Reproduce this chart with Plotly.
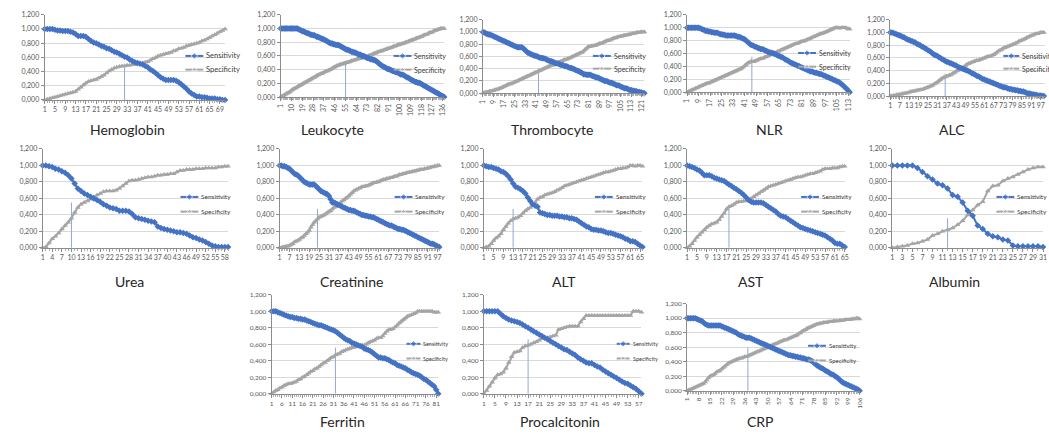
import plotly.graph_objects as go

W, H = 1049, 434

# ---------------- data ----------------
hemoglobin_sens = [1,1,1,1,.99,.98,.98,.97, .97,.97,.96,.95,.93,.90,.90,.90,
 .89,.86,.83,.81,.80,.78,.76,.75, .73,.72,.70,.68,.67,.65,.63,.61,
 .60,.57,.55,.53,.52,.51,.50,.48, .46,.43,.41,.38,.35,.32,.30,.28,
 .28,.28,.28,.27,.25,.22,.19,.16, .12,.09,.07,.05,.05,.04,.04,.03,
 .02,.02,.02,.01,.01,0,0]
hemoglobin_spec = [0,.01,.02,.03,.04,.05,.06,.07, .08,.09,.10,.11,.12,.15,.18,.21,
 .24,.26,.27,.28,.29,.31,.33,.35, .38,.41,.43,.45,.46,.47,.48,.48,
 .49,.49,.50,.50,.51,.51,.52,.53, .54,.56,.58,.60,.62,.63,.64,.65,
 .66,.67,.69,.70,.72,.73,.74,.76, .77,.78,.79,.80,.81,.83,.84,.86,
 .88,.90,.92,.94,.96,.98,1]

leukocyte_sens = [1,1,1,1,1,1,1,1,1,1, 1,1,1,1,1,.99,.98,.97,.96,.96,
 .95,.94,.93,.93,.92,.91,.91,.90,.90,.89, .88,.88,.87,.86,.85,.85,.84,.83,.82,.81,
 .80,.79,.78,.78,.77,.77,.76,.76,.76,.75, .74,.73,.72,.71,.70,.69,.69,.68,.67,.66,
 .66,.65,.65,.64,.63,.62,.62,.61,.60,.60, .59,.58,.57,.57,.56,.55,.55,.54,.54,.53,
 .52,.50,.49,.47,.46,.45,.44,.43,.42,.41, .41,.40,.39,.38,.38,.37,.36,.36,.35,.34,
 .33,.33,.32,.31,.30,.29,.28,.27,.26,.25, .24,.23,.22,.22,.21,.21,.20,.19,.18,.17,
 .16,.15,.14,.13,.12,.11,.10,.09,.08,.07, .06,.05,.04,.03,.02,.01,0]
leukocyte_spec = [0,.01,.02,.03,.04,.05,.06,.07,.08,.10, .11,.12,.13,.14,.15,.16,.17,.18,.19,.20,
 .21,.22,.23,.24,.25,.26,.27,.28,.29,.30, .31,.32,.33,.34,.34,.35,.36,.37,.38,.38,
 .39,.40,.41,.42,.43,.44,.45,.46,.46,.47, .48,.48,.49,.49,.50,.50,.51,.51,.52,.53,
 .53,.54,.54,.55,.55,.56,.56,.57,.57,.58, .58,.59,.59,.60,.61,.61,.62,.63,.64,.64,
 .65,.66,.66,.67,.67,.68,.69,.69,.70,.71, .71,.72,.72,.73,.74,.74,.75,.76,.76,.77,
 .77,.78,.78,.79,.80,.80,.81,.82,.82,.83, .84,.84,.85,.86,.86,.87,.88,.88,.89,.90,
 .91,.91,.92,.93,.94,.94,.95,.96,.97,.97, .98,.99,.99,1,1,1,1]

thrombocyte_sens = [1,.99,.98,.97,.96,.96,.95,.94,.93,.92, .91,.90,.89,.88,.87,.86,.85,.84,.83,.82,
 .81,.80,.79,.78,.77,.76,.75,.75,.75,.75, .74,.72,.70,.68,.66,.65,.64,.63,.62,.61,
 .61,.60,.59,.58,.58,.57,.57,.56,.55,.54, .53,.52,.52,.51,.50,.49,.49,.48,.47,.46,
 .46,.45,.44,.44,.43,.42,.41,.41,.40,.39, .38,.37,.36,.35,.34,.33,.31,.31,.30,.30,
 .30,.30,.29,.28,.27,.26,.26,.25,.24,.23, .22,.21,.20,.20,.19,.18,.17,.17,.16,.15,
 .14,.13,.13,.12,.11,.10,.09,.08,.08,.07, .06,.05,.05,.04,.04,.03,.03,.02,.02,.01,
 .01,0,0]
thrombocyte_spec = [0,.01,.01,.02,.02,.03,.03,.04,.04,.05, .06,.06,.07,.08,.09,.10,.11,.12,.13,.14,
 .15,.15,.16,.17,.18,.19,.20,.21,.22,.23, .24,.25,.26,.27,.28,.29,.30,.31,.32,.33,
 .34,.35,.36,.37,.38,.39,.40,.41,.42,.43, .44,.45,.45,.46,.47,.48,.49,.50,.51,.52,
 .53,.54,.55,.55,.56,.57,.58,.59,.60,.61, .62,.63,.64,.65,.66,.67,.69,.71,.73,.75,
 .76,.76,.77,.77,.78,.78,.79,.80,.81,.81, .82,.83,.84,.85,.86,.86,.87,.88,.89,.90,
 .90,.91,.92,.92,.93,.93,.94,.94,.95,.95, .96,.96,.97,.97,.98,.98,.99,.99,.99,1,
 1,1,1]

nlr_sens = [1,1,1,1,1,1,1,1,1,.99, .98,.97,.96,.95,.95,.94,.94,.93,.93,.92,
 .92,.92,.91,.90,.90,.89,.89,.88,.88,.88, .88,.88,.88,.88,.87,.86,.86,.85,.84,.83,
 .82,.80,.78,.76,.74,.73,.72,.71,.70,.69, .68,.67,.67,.66,.65,.64,.63,.62,.61,.61,
 .60,.59,.58,.57,.56,.55,.54,.53,.51,.50, .49,.47,.46,.45,.44,.43,.42,.41,.40,.39,
 .38,.37,.36,.35,.34,.33,.32,.32,.31,.30, .30,.29,.28,.28,.27,.26,.25,.24,.23,.22,
 .21,.20,.19,.18,.17,.16,.15,.13,.11,.09, .07,.05,.02,0]
nlr_spec = [0,.01,.02,.03,.04,.05,.06,.07,.08,.09, .10,.11,.12,.13,.14,.14,.15,.16,.17,.18,
 .19,.20,.21,.22,.23,.24,.25,.26,.27,.28, .29,.30,.31,.32,.33,.34,.35,.36,.37,.39,
 .41,.43,.45,.46,.47,.47,.47,.48,.49,.50, .51,.52,.52,.53,.54,.55,.56,.57,.58,.59,
 .60,.61,.62,.63,.64,.65,.66,.67,.68,.69, .70,.71,.72,.73,.74,.75,.75,.76,.77,.78,
 .79,.79,.80,.81,.82,.83,.84,.85,.86,.87, .88,.89,.90,.91,.91,.92,.93,.94,.95,.96,
 .97,.98,.99,1,1,1,.99,1,1,1, 1,.99,.98,.98]

alc_sens = [1,1,.99,.98,.97,.96,.95,.94,.93,.92, .90,.89,.88,.87,.86,.85,.84,.82,.81,.80,
 .78,.77,.75,.74,.72,.71,.69,.67,.65,.64, .63,.61,.60,.58,.57,.55,.54,.53,.52,.51,
 .50,.49,.48,.46,.45,.44,.43,.42,.41,.40, .39,.38,.36,.35,.34,.32,.31,.30,.28,.27,
 .26,.25,.24,.23,.22,.21,.20,.19,.18,.17, .16,.15,.14,.14,.13,.12,.11,.11,.10,.10,
 .09,.09,.08,.08,.07,.07,.06,.05,.04,.04, .03,.03,.02,.02,.01,.01,.01,0,0]
alc_spec = [0,0,.01,.01,.02,.02,.03,.03,.04,.04, .05,.05,.06,.07,.07,.08,.08,.09,.09,.10,
 .10,.11,.12,.13,.14,.15,.16,.17,.19,.20, .22,.24,.26,.28,.29,.30,.31,.32,.33,.34,
 .36,.37,.39,.40,.42,.43,.44,.46,.48,.50, .51,.52,.53,.54,.55,.56,.56,.57,.58,.59,
 .60,.61,.62,.62,.63,.64,.65,.67,.69,.71, .72,.73,.75,.76,.77,.78,.79,.80,.81,.82,
 .83,.84,.86,.87,.88,.89,.90,.92,.93,.94, .95,.96,.97,.98,.98,.99,1,1,1]

urea_sens = [1,1,.99,.98,.96,.95,.93,.91,.88,.84, .78,.72,.69,.66,.64,.62,.60,.58,.56,.53,
 .51,.49,.48,.47,.45,.45,.45,.44,.41,.37, .36,.35,.34,.33,.32,.31,.26,.24,.23,.22,
 .21,.20,.19,.19,.18,.17,.15,.13,.12,.10, .09,.07,.05,.03,.02,.01,.01,.01,.01]
urea_spec = [0,.01,.06,.11,.14,.18,.23,.27,.31,.36, .43,.49,.53,.55,.57,.59,.62,.64,.66,.68,
 .69,.69,.69,.70,.72,.75,.78,.81,.82,.82, .83,.84,.85,.86,.86,.87,.88,.88,.89,.89,
 .90,.90,.92,.94,.94,.95,.95,.95,.96,.96, .96,.97,.97,.97,.97,.98,.98,.99,.99]

creatinine_sens = [1,1,.99,.99,.98,.97,.96,.94,.92,.90, .89,.88,.86,.84,.82,.80,.79,.78,.77,.77,
 .77,.77,.75,.73,.71,.69,.68,.67,.66,.65, .63,.59,.55,.55,.54,.53,.52,.51,.50,.49,
 .48,.47,.46,.46,.45,.45,.44,.43,.42,.41, .40,.40,.39,.39,.38,.38,.37,.37,.36,.35,
 .34,.33,.32,.31,.30,.29,.28,.27,.27,.26, .25,.24,.23,.23,.22,.22,.21,.20,.19,.18,
 .17,.16,.15,.14,.13,.12,.11,.10,.09,.08, .07,.06,.05,.05,.04,.03,.02,.01]
creatinine_spec = [0,0,.01,.01,.02,.02,.03,.04,.05,.07, .08,.09,.10,.12,.13,.15,.17,.19,.21,.25,
 .28,.31,.33,.35,.37,.38,.39,.40,.41,.43, .44,.45,.47,.49,.50,.52,.53,.55,.57,.58,
 .60,.61,.63,.65,.67,.69,.70,.71,.72,.73, .74,.74,.75,.75,.76,.77,.78,.79,.79,.80,
 .80,.81,.82,.83,.83,.84,.84,.85,.85,.86, .87,.87,.88,.89,.89,.90,.90,.91,.91,.92,
 .92,.93,.93,.94,.94,.95,.95,.95,.96,.96, .97,.97,.98,.98,.99,.99,1,1]

alt_sens = [1,.99,.98,.98,.97,.96,.95,.93,.92,.90, .87,.83,.78,.74,.73,.71,.69,.66,.61,.57,
 .53,.51,.50,.43,.42,.41,.40,.40,.39,.39, .39,.38,.38,.37,.37,.36,.36,.35,.34,.32,
 .30,.28,.26,.25,.23,.22,.22,.21,.21,.20, .19,.18,.18,.17,.16,.15,.14,.13,.11,.10,
 .08,.08,.07,.05,.03,.01]
alt_spec = [0,.01,.02,.05,.09,.12,.14,.17,.22,.26, .30,.33,.35,.36,.37,.39,.42,.45,.47,.49,
 .51,.55,.59,.61,.62,.64,.65,.66,.67,.68, .70,.71,.73,.75,.76,.77,.78,.79,.80,.81,
 .82,.83,.84,.85,.86,.87,.88,.89,.90,.91, .92,.92,.93,.94,.95,.96,.96,.97,.97,.98,
 1,1,.99,1,1,.99]

ast_sens = [1,.99,.98,.97,.95,.94,.91,.88,.88,.88, .87,.85,.84,.83,.82,.81,.79,.77,.75,.73,
 .71,.69,.67,.64,.61,.58,.56,.55,.55,.55, .55,.54,.52,.50,.48,.46,.44,.41,.39,.38,
 .37,.35,.33,.31,.29,.27,.25,.24,.23,.22, .21,.20,.19,.18,.17,.16,.15,.13,.11,.09,
 .06,.05,.05,.03,.01]
ast_spec = [0,.02,.05,.09,.13,.16,.19,.22,.25,.27, .29,.30,.31,.34,.38,.42,.47,.50,.51,.53,
 .55,.56,.56,.57,.57,.58,.60,.62,.64,.66, .68,.70,.72,.74,.75,.76,.77,.78,.79,.80,
 .81,.82,.83,.84,.85,.86,.86,.87,.88,.89, .90,.90,.91,.92,.93,.95,.96,.96,.96,.97,
 .97,.97,.98,.99,.99]

albumin_sens = [1,1,1,1,1,.97,.92,.87,.83,.78, .76,.72,.64,.62,.55,.45,.39,.27,.23,.17,
 .14,.13,.10,.09,.03,.02,.02,.02,.02,.02,.01]
albumin_spec = [0,.01,.02,.03,.05,.06,.08,.10,.15,.17, .20,.22,.24,.28,.33,.40,.46,.52,.56,.69,
 .75,.76,.81,.84,.86,.89,.92,.95,.97,.98,.98]

ferritin_sens = [1,1,1,.99,.98,.97,.96,.95,.94,.93, .93,.92,.92,.91,.91,.90,.90,.89,.88,.87,
 .86,.85,.84,.83,.83,.82,.81,.80,.79,.78, .77,.76,.74,.72,.70,.68,.66,.65,.64,.62,
 .61,.60,.59,.58,.57,.55,.54,.53,.52,.50, .48,.46,.44,.44,.43,.43,.42,.41,.39,.38,
 .37,.35,.34,.33,.32,.31,.29,.28,.26,.25, .24,.23,.22,.20,.18,.17,.15,.13,.11,.09,
 .05,0]
ferritin_spec = [0,.02,.04,.05,.07,.08,.10,.11,.12,.12, .13,.14,.15,.17,.18,.20,.21,.23,.25,.27,
 .28,.30,.31,.33,.35,.37,.38,.40,.42,.44, .45,.47,.48,.49,.51,.52,.53,.54,.55,.56,
 .56,.57,.58,.58,.59,.59,.60,.62,.63,.64, .65,.67,.68,.68,.70,.73,.76,.78,.78,.79,
 .81,.83,.86,.88,.90,.92,.94,.95,.96,.97, .98,1,1,1,1,1,1,1,1,.99,
 .99,.99]

procalcitonin_sens = [1,1,1,1,1,1,.97,.94,.92,.90, .89,.88,.87,.86,.84,.82,.80,.78,.76,.74,
 .72,.70,.68,.66,.64,.62,.60,.58,.56,.54, .53,.51,.49,.47,.44,.42,.40,.38,.37,.37,
 .35,.33,.32,.29,.27,.25,.23,.21,.19,.17, .15,.13,.12,.10,.08,.06,.03,0]
procalcitonin_spec = [0,.04,.09,.14,.19,.23,.24,.26,.31,.38, .45,.50,.51,.52,.56,.58,.59,.60,.62,.63,
 .65,.67,.68,.68,.69,.70,.71,.78,.79,.80, .81,.82,.82,.82,.82,.87,.91,.95,.95,.95,
 .95,.95,.95,.95,.95,.95,.95,.95,.95,.95, .95,.95,.95,.95,1,1,1,.99]

crp_sens = [1,1,1,1,1,1,.99,.98,.97,.96, .94,.92,.91,.90,.90,.90,.90,.90,.90,.90,
 .90,.89,.88,.87,.86,.85,.84,.83,.82,.81, .80,.78,.77,.76,.75,.74,.73,.73,.73,.72,
 .71,.70,.69,.68,.67,.66,.65,.64,.63,.62, .61,.60,.59,.58,.57,.56,.55,.54,.53,.52,
 .51,.50,.49,.49,.48,.48,.47,.47,.46,.46, .45,.45,.44,.43,.43,.42,.41,.39,.37,.35,
 .34,.32,.31,.30,.28,.27,.26,.24,.23,.22, .20,.19,.17,.15,.13,.11,.10,.09,.08,.07,
 .06,.05,.04,.03,.02,0]
crp_spec = [0,.01,.02,.03,.04,.05,.06,.07,.08,.09, .10,.12,.15,.18,.20,.21,.22,.24,.26,.27,
 .28,.30,.32,.34,.36,.38,.39,.40,.41,.42, .43,.44,.45,.45,.46,.47,.47,.48,.49,.50,
 .51,.52,.53,.54,.55,.56,.57,.58,.59,.60, .61,.62,.63,.64,.65,.66,.67,.68,.69,.70,
 .70,.71,.72,.73,.74,.75,.76,.77,.79,.80, .82,.83,.84,.86,.87,.88,.89,.90,.91,.92,
 .92,.93,.93,.94,.94,.94,.95,.95,.95,.96, .96,.96,.96,.97,.97,.97,.98,.98,.98,.98,
 .99,.99,.99,1,1,.99]

# cut-off marker lines (category index, height)
cutoff_index = [32, 55, 43, 46, 36, 10, 24, 13, 18, 12, 32, 17, 38]
cutoff_height = [.48, .49, .38, .55, .35, .55, .47, .47, .50, .36, .56, .66, .60]

titles = ["Hemoglobin", "Leukocyte", "Thrombocyte", "NLR", "ALC",
          "Urea", "Creatinine", "ALT", "AST", "Albumin",
          "Ferritin", "Procalcitonin", "CRP"]
sens_all = [hemoglobin_sens, leukocyte_sens, thrombocyte_sens, nlr_sens, alc_sens,
            urea_sens, creatinine_sens, alt_sens, ast_sens, albumin_sens,
            ferritin_sens, procalcitonin_sens, crp_sens]
spec_all = [hemoglobin_spec, leukocyte_spec, thrombocyte_spec, nlr_spec, alc_spec,
            urea_spec, creatinine_spec, alt_spec, ast_spec, albumin_spec,
            ferritin_spec, procalcitonin_spec, crp_spec]
tick_step = [4, 9, 8, 8, 6, 3, 6, 4, 4, 2, 5, 4, 7]
series_names = ["Sensitivity", "Specificity"]

# ---------------- layout (pixel boxes) ----------------
# first point px, last point px, y px of 0, y px of 1.2, tick angle, x-range end override
boxes = [
    (40, 222, 97, 10, 0, None),
    (278, 443, 94, 10, -90, None),
    (482, 645, 90, 15, -90, None),
    (688, 852, 89, 10, -90, None),
    (893, 1049, 93, 15, 0, 99.7),
    (38, 225, 248, 147, 0, None),
    (277, 438, 248, 147, 0, None),
    (483, 643, 248, 147, 0, None),
    (688, 847, 248, 147, 0, None),
    (895, 1047, 248, 147, 0, None),
    (269, 437, 397, 296, 0, None),
    (483, 642, 397, 296, 0, None),
    (688, 862, 394, 305, -90, None),
]
# legend: line start x, row1 y, row2 y, key length, font size
legend_pos = [(182, 52, 66, 18, 7.5), (392, 52, 66, 18, 7), (593, 52, 65, 18, 7),
              (800, 49, 63, 18, 7), (1007, 52, 65, 16, 7),
              (177, 196, 211, 18, 6.5), (393, 196, 211, 18, 6.5), (595, 196, 211, 18, 6.5),
              (803, 196, 211, 18, 6.5), (1000, 196, 211, 18, 6.5),
              (405, 346, 361, 14, 5.5), (617, 346, 361, 13, 5.5), (810, 348, 363, 18, 6)]
title_pos = [(124, 127), (330, 127), (552, 127), (771, 127), (955, 127),
             (126, 282), (350, 282), (564, 282), (752, 282), (958, 282),
             (340, 425), (560, 425), (762, 425)]

BLUE = "#4472C4"
GREY = "#A5A5A5"
CUT = "#8FA8D6"
TXT = "#404040"
FONT = "Lato"

fig = go.Figure()
layout = {}
annotations = []

for i in range(len(titles)):
    k = i + 1
    xa = "x" if k == 1 else f"x{k}"
    ya = "y" if k == 1 else f"y{k}"
    sens = sens_all[i]
    spec = spec_all[i]
    n = len(sens)
    idx = list(range(1, n + 1))
    fx, lx, y0, y12, ang, rend = boxes[i]
    tfs = 6.5 if i >= 10 else 7

    fig.add_trace(go.Scatter(x=[cutoff_index[i]] * 2, y=[0, cutoff_height[i]], mode="lines",
                             line=dict(color=CUT, width=1), xaxis=xa, yaxis=ya,
                             showlegend=False, hoverinfo="skip"))
    fig.add_trace(go.Scatter(x=idx, y=spec, mode="lines+markers", name=series_names[1],
                             line=dict(color=GREY, width=2),
                             marker=dict(symbol="triangle-up", size=5, color=GREY),
                             xaxis=xa, yaxis=ya, showlegend=False, cliponaxis=False))
    fig.add_trace(go.Scatter(x=idx, y=sens, mode="lines+markers", name=series_names[0],
                             line=dict(color=BLUE, width=2),
                             marker=dict(symbol="diamond", size=5, color=BLUE),
                             xaxis=xa, yaxis=ya, showlegend=False, cliponaxis=False))

    xr = [1, rend if rend else n]
    layout["xaxis" if k == 1 else f"xaxis{k}"] = dict(
        domain=[fx / W, min(lx / W, 1.0)], range=xr, anchor=ya,
        showgrid=False, zeroline=False, showline=True, linecolor="#8C8C8C", linewidth=1,
        tickmode="linear", tick0=1, dtick=tick_step[i], ticks="outside", ticklen=3,
        tickcolor="#8C8C8C", tickangle=ang,
        minor=dict(dtick=1, tick0=1, ticks="outside", ticklen=2, tickcolor="#B0B0B0", showgrid=False),
        tickfont=dict(family=FONT, size=tfs, color="#595959"), fixedrange=True)
    layout["yaxis" if k == 1 else f"yaxis{k}"] = dict(
        domain=[1 - y0 / H, 1 - y12 / H], range=[0, 1.2], anchor=xa,
        tickvals=[0, .2, .4, .6, .8, 1.0, 1.2], tickformat=".3f",
        showgrid=True, gridcolor="#D9D9D9", gridwidth=1, zeroline=False,
        showline=True, linecolor="#8C8C8C", linewidth=1, ticks="outside", ticklen=3,
        tickcolor="#8C8C8C", tickfont=dict(family=FONT, size=tfs, color="#595959"), fixedrange=True)

    # legend keys drawn on a page-sized overlay axis
    lgx, r1, r2, klen, lfs = legend_pos[i]
    for row_y, col, sym, nm in [(r1, BLUE, "diamond", series_names[0]), (r2, GREY, "triangle-up", series_names[1])]:
        fig.add_trace(go.Scatter(x=[lgx, lgx + klen / 2, lgx + klen], y=[row_y] * 3, mode="lines+markers",
                                 line=dict(color=col, width=2),
                                 marker=dict(symbol=sym, size=[0, 5, 0], color=col),
                                 xaxis="x14", yaxis="y14", showlegend=False, hoverinfo="skip",
                                 cliponaxis=False))
        annotations.append(dict(text=nm, x=(lgx + klen + 1) / W, y=1 - row_y / H, xref="paper", yref="paper",
                                xanchor="left", yanchor="middle", showarrow=False,
                                font=dict(family=FONT, size=lfs, color=TXT)))
    tx, ty = title_pos[i]
    annotations.append(dict(text=titles[i], x=tx / W, y=1 - ty / H, xref="paper", yref="paper",
                            xanchor="center", yanchor="middle", showarrow=False,
                            font=dict(family=FONT, size=14, color="#262626")))

layout["xaxis14"] = dict(domain=[0, 1], range=[0, W], visible=False, anchor="y14", fixedrange=True)
layout["yaxis14"] = dict(domain=[0, 1], range=[H, 0], visible=False, anchor="x14", fixedrange=True)

fig.update_layout(**layout)
fig.update_layout(width=W, height=H, margin=dict(l=0, r=0, t=0, b=0),
                  paper_bgcolor="white", plot_bgcolor="rgba(0,0,0,0)", separators=",.",
                  annotations=annotations, showlegend=False)

fig.write_html("out.html", config={"displayModeBar": False},
               post_script="document.body.style.margin='0';document.body.style.padding='0';")
